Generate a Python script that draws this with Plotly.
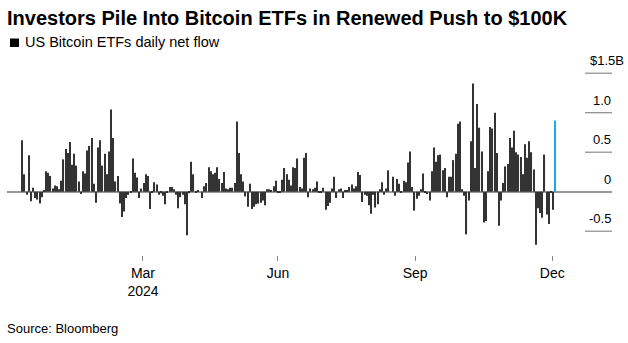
import plotly.graph_objects as go

# Daily net flow, US Bitcoin ETFs ($B) (oldest -> newest)
flows = [
    0.65, 0.22, -0.04, 0.46, -0.12, 0.05, -0.08, -0.10, -0.15, -0.07,
    0.02, 0.26, 0.24, 0.20, 0.04, 0.08, 0.07, 0.03, 0.14, 0.41,
    0.54, 0.49, 0.63, 0.34, 0.48, 0.33, 0.13, -0.03, 0.26, 0.23,
    0.52, 0.58, 0.68, 0.10, -0.14, 0.56, 0.65, 0.33, 0.48, 0.22,
    0.51, 1.04, 0.68, 0.13, 0.20, -0.15, -0.32, -0.25, -0.08, -0.04,
    -0.01, 0.42, 0.24, 0.18, -0.08, 0.04, 0.11, 0.22, 0.20, -0.22,
    -0.01, 0.12, 0.09, -0.04, -0.02, -0.05, -0.16, -0.01, 0.06, 0.06,
    0.03, -0.04, -0.21, -0.07, -0.04, -0.16, -0.55, -0.02, 0.38, 0.22,
    -0.01, 0.01, 0.00, -0.08, 0.07, 0.11, 0.31, 0.26, 0.22, 0.24,
    0.31, 0.16, 0.11, 0.25, 0.04, 0.03, 0.05, 0.05, 0.11, 0.89,
    0.49, 0.22, 0.13, -0.06, -0.19, 0.10, -0.22, -0.19, -0.16, -0.15,
    -0.14, -0.11, -0.17, 0.03, 0.03, 0.01, 0.07, 0.14, -0.01, -0.01,
    0.15, 0.30, 0.22, 0.15, 0.08, 0.31, 0.30, 0.42, 0.06, 0.04,
    0.43, 0.49, -0.07, 0.04, 0.03, 0.05, 0.13, -0.01, -0.01, 0.05,
    -0.23, -0.18, -0.14, 0.04, 0.19, -0.08, 0.03, 0.04, -0.08, 0.01,
    0.02, 0.06, 0.09, 0.04, 0.07, 0.25, 0.21, -0.13, -0.04, -0.05,
    -0.17, -0.28, -0.04, -0.20, -0.16, 0.03, 0.12, -0.04, 0.04, 0.27,
    0.00, 0.19, -0.05, 0.16, 0.10, -0.01, 0.14, 0.12, 0.37, 0.51,
    0.06, -0.24, -0.09, -0.05, 0.03, 0.23, -0.01, -0.03, -0.11, 0.26,
    0.56, 0.38, 0.46, 0.47, 0.27, 0.30, -0.07, 0.19, 0.19, 0.40,
    0.48, 0.86, 0.89, 0.03, -0.05, -0.54, -0.11, 0.64, 1.37, 0.30,
    1.11, 0.81, 0.51, -0.39, -0.37, 0.26, 0.82, 0.80, 1.00, 0.49,
    -0.43, -0.11, 0.11, 0.32, 0.35, 0.68, 0.56, 0.77, 0.50, 0.47,
    0.44, 0.22, 0.60, 0.43, 0.64, 0.50, 0.28, -0.67, -0.21, -0.27,
    -0.33, 0.47, -0.29, -0.41, -0.01, -0.23, 0.90,
]
day_index = list(range(len(flows)))

x_tick_pos = [55.7, 118.0, 181.3, 244.6]
x_tick_labels = ["Mar<br>2024", "Jun", "Sep", "Dec"]

y_tick_vals = [1.5, 1.0, 0.5, 0.0, -0.5]
y_tick_labels = ["$1.5B", "1.0", "0.5", "0", "-0.5"]

TITLE = "Investors Pile Into Bitcoin ETFs in Renewed Push to $100K"
SUBTITLE = "US Bitcoin ETFs daily net flow"
SOURCE = "Source: Bloomberg"

FONT = "Liberation Sans, Arial, Helvetica, sans-serif"
BAR = "#333333"
HIGHLIGHT = "#1FA8E6"

W, H = 628, 343
L, R, T, B = 7, 16, 50, 88
PW, PH = W - L - R, H - T - B


def px_x(px):
    return (px - L) / PW


def px_y(py):
    return (H - B - py) / PH


colors = [BAR] * (len(flows) - 1) + [HIGHLIGHT]

fig = go.Figure(
    go.Bar(
        x=day_index,
        y=flows,
        marker=dict(color=colors, line=dict(width=0)),
        hoverinfo="skip",
    )
)

annotations = [
    dict(text=SUBTITLE, x=px_x(23), y=px_y(42.5), xref="paper", yref="paper",
         xanchor="left", yanchor="middle", showarrow=False,
         font=dict(size=14.5, color="#000", family=FONT)),
    dict(text=SOURCE, x=px_x(5), y=px_y(328), xref="paper", yref="paper",
         xanchor="left", yanchor="middle", showarrow=False,
         font=dict(size=13, color="#000", family=FONT)),
]
for v, lab in zip(y_tick_vals, y_tick_labels):
    right_px = 626 if lab.startswith("$") else 613
    annotations.append(
        dict(text=lab, x=px_x(right_px), y=v, xref="paper", yref="y",
             xanchor="right", yanchor="middle", yshift=12.5, showarrow=False,
             font=dict(size=13, color="#000", family=FONT))
    )

shapes = [
    dict(type="rect", xref="paper", yref="paper",
         x0=px_x(10), x1=px_x(19), y0=px_y(47), y1=px_y(38.5),
         fillcolor="#000", line=dict(width=0)),
]
for v in y_tick_vals:
    if v == 0:
        continue
    shapes.append(
        dict(type="line", xref="paper", yref="y", x0=px_x(585), x1=px_x(612),
             y0=v, y1=v, line=dict(color="#8a8a8a", width=1.2))
    )

y_top = (191.7 - T) / 79.0
y_bot = -(H - B - 191.7) / 79.0
x_step = 533.0 / (len(flows) - 1)
x_lo = (L - 22.3) / x_step
x_hi = (W - R - 22.3) / x_step

fig.update_layout(
    width=W, height=H,
    margin=dict(l=L, r=R, t=T, b=B, pad=0),
    paper_bgcolor="white", plot_bgcolor="white",
    showlegend=False,
    bargap=0.45,
    title=dict(text="<b>" + TITLE + "</b>", x=px_x(7) * PW / W + L / W, xanchor="left",
               xref="container", y=1 - 17.5 / H, yanchor="middle",
               font=dict(size=20, color="#000", family=FONT)),
    xaxis=dict(range=[x_lo, x_hi], tickmode="array", tickvals=x_tick_pos,
               ticktext=x_tick_labels, ticks="outside", ticklen=5, tickwidth=1,
               tickcolor="#888", showgrid=False, zeroline=False, showline=False,
               tickfont=dict(size=14, color="#000", family=FONT), fixedrange=True),
    yaxis=dict(range=[y_bot, y_top], showgrid=False, showticklabels=False,
               zeroline=True, zerolinecolor="#999", zerolinewidth=1.5,
               showline=False, ticks="", fixedrange=True),
    annotations=annotations,
    shapes=shapes,
)

fig.write_html("out.html")
